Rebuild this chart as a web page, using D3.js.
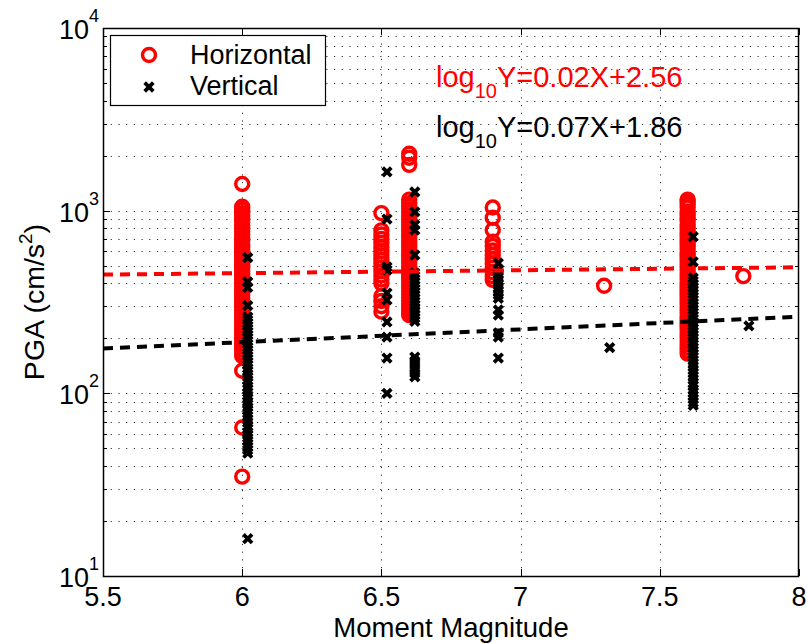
<!DOCTYPE html>
<html>
<head>
<meta charset="utf-8">
<script src="https://cdn.jsdelivr.net/npm/d3@7"></script>
<style>
  body { margin: 0; background: #fff; }
  svg { display: block; }
  text { font-family: Arial, "Liberation Sans", Helvetica, sans-serif; }
</style>
</head>
<body>
<div id="chart"></div>
<script>
// magnitudes of the events (vertical records drawn just right of horizontal ones)
const hMag = [6.0, 6.5, 6.6, 6.9, 7.3, 7.6, 7.8];
const vMag = [6.02, 6.52, 6.62, 6.92, 7.32, 7.62, 7.82];

// PGA (cm/s^2) of horizontal records, one list per event
const hPGA = [
    [1400, 1050, 1010, 970, 935, 900, 865, 830, 800, 770, 740, 712, 685, 660, 635, 610, 588, 565, 545,
     525, 505, 485, 467, 450, 433, 417, 401, 386, 372, 358, 344, 331, 319, 307, 296, 285, 274, 264, 254,
     244, 235, 226, 218, 210, 202, 194, 187, 180, 173, 166, 160, 133, 65, 35],
    [970, 780, 740, 700, 665, 630, 600, 570, 540, 512, 488, 465, 442, 420, 400, 340, 320, 300, 280],
    [2050, 1950, 1780, 1150, 1100, 1060, 1020, 980, 940, 900, 865, 830, 800, 770, 740, 710, 680, 655,
     630, 605, 580, 558, 536, 515, 495, 476, 458, 440, 423, 407, 391, 376, 362, 348, 335, 322, 310, 298,
     287, 276, 268],
    [1040, 915, 783, 676, 640, 605, 572, 540, 512, 485, 460, 438, 418],
    [388],
    [1150, 1120, 1080, 1040, 990, 950, 910, 880, 840, 810, 780, 750, 720, 690, 665, 640, 615, 590, 570,
     548, 528, 508, 490, 470, 452, 436, 420, 404, 388, 374, 360, 346, 333, 320, 308, 296, 285, 274, 263,
     253, 243, 234, 225, 216, 208, 200, 192, 185, 178, 171, 165],
    [438]
];

// PGA (cm/s^2) of vertical records
const vPGA = [
    [553, 407, 380, 302, 262, 252, 243, 234, 225, 217, 209, 201, 193, 186, 179, 172, 166, 160, 154, 148,
     143, 137, 132, 127, 123, 118, 114, 109, 105, 101, 97, 94, 90, 87, 84, 81, 78, 75, 72, 69, 66, 64,
     61, 59, 57, 55, 53, 51, 49, 47, 16],
    [1630, 900, 492, 473, 354, 324, 246, 203, 156, 100],
    [1265, 985, 835, 783, 572, 456, 438, 420, 404, 388, 372, 357, 343, 330, 317, 304, 292, 280, 269, 258,
     248, 158, 150, 143, 136, 129, 123],
    [516, 473, 452, 432, 413, 395, 378, 362, 346, 331, 286, 268, 214, 203, 156],
    [178],
    [720, 525, 428, 412, 396, 380, 365, 351, 337, 324, 311, 299, 287, 276, 265, 255, 245, 235, 226, 217,
     208, 200, 192, 185, 178, 171, 164, 158, 152, 146, 140, 134, 129, 124, 119, 114, 110, 105, 101, 97,
     93, 89, 86],
    [234]
];

// fitted lines log10(Y) = a*X + b (a, b unrounded as drawn; labels as printed)
const fitH = { a: 0.016, b: 2.562, label: "0.02X+2.56" };
const fitV = { a: 0.07, b: 1.86, label: "0.07X+1.86" };

const xTicks = [5.5, 6, 6.5, 7, 7.5, 8];
const yMajor = [10, 100, 1000, 10000];

const W = 807, H = 644;
const pad = { left: 103, right: 799, top: 28, bottom: 576 };
const red = "#ff0000";

const svg = d3.select("#chart").append("svg").attr("width", W).attr("height", H);

const x = d3.scaleLinear().domain([5.5, 8]).range([pad.left, pad.right]);
const y = d3.scaleLog().domain([10, 10000]).range([pad.bottom, pad.top]);

const yMinor = [];
[10, 100, 1000].forEach(d => { for (let k = 2; k <= 9; k++) yMinor.push(d * k); });

// grid
const grid = svg.append("g").attr("stroke", "#333").attr("stroke-width", 1)
    .attr("stroke-dasharray", "1.2,6.5");
grid.selectAll(".gy").data(yMinor.concat([100, 1000])).enter().append("line")
    .attr("x1", pad.left).attr("x2", pad.right)
    .attr("y1", d => Math.round(y(d)) + 0.5).attr("y2", d => Math.round(y(d)) + 0.5);
grid.selectAll(".gx").data(xTicks.slice(1, -1)).enter().append("line")
    .attr("y1", pad.top).attr("y2", pad.bottom)
    .attr("x1", d => Math.round(x(d)) + 0.5).attr("x2", d => Math.round(x(d)) + 0.5);

// ticks (inward, all four sides)
const ticks = svg.append("g").attr("stroke", "#000").attr("stroke-width", 1);
yMajor.forEach(d => {
    const yy = Math.round(y(d)) + 0.5;
    ticks.append("line").attr("x1", pad.left).attr("x2", pad.left + 7).attr("y1", yy).attr("y2", yy);
    ticks.append("line").attr("x1", pad.right).attr("x2", pad.right - 7).attr("y1", yy).attr("y2", yy);
});
yMinor.forEach(d => {
    const yy = Math.round(y(d)) + 0.5;
    ticks.append("line").attr("x1", pad.left).attr("x2", pad.left + 4).attr("y1", yy).attr("y2", yy);
    ticks.append("line").attr("x1", pad.right).attr("x2", pad.right - 4).attr("y1", yy).attr("y2", yy);
});
xTicks.forEach(d => {
    const xx = Math.round(x(d)) + 0.5;
    ticks.append("line").attr("x1", xx).attr("x2", xx).attr("y1", pad.bottom).attr("y2", pad.bottom - 7);
    ticks.append("line").attr("x1", xx).attr("x2", xx).attr("y1", pad.top).attr("y2", pad.top + 7);
});

// data markers
const plot = svg.append("g");
hMag.forEach((m, i) => {
    plot.selectAll(null).data(hPGA[i]).enter().append("circle")
        .attr("cx", x(m)).attr("cy", d => y(d)).attr("r", 6.5)
        .attr("fill", "none").attr("stroke", red).attr("stroke-width", 3.4);
});
const cross = "M-4.3,-4.3L4.3,4.3M-4.3,4.3L4.3,-4.3";
vMag.forEach((m, i) => {
    plot.selectAll(null).data(vPGA[i]).enter().append("path")
        .attr("d", cross)
        .attr("transform", d => `translate(${x(m)},${y(d)})`)
        .attr("fill", "none").attr("stroke", "#000").attr("stroke-width", 3.8);
});

// fitted lines
[[fitH, red], [fitV, "#000"]].forEach(([f, c]) => {
    const pts = [5.5, 8].map(m => [x(m), y(Math.pow(10, f.a * m + f.b))]);
    svg.append("path").attr("d", d3.line()(pts))
        .attr("fill", "none").attr("stroke", c).attr("stroke-width", 4)
        .attr("stroke-dasharray", "10,7");
});

// axes box
svg.append("rect").attr("x", pad.left + 0.5).attr("y", pad.top + 0.5)
    .attr("width", pad.right - pad.left - 1).attr("height", pad.bottom - pad.top)
    .attr("fill", "none").attr("stroke", "#000").attr("stroke-width", 1.5);

// tick labels
svg.selectAll(".xl").data(xTicks).enter().append("text")
    .attr("x", d => x(d)).attr("y", pad.bottom + 30)
    .attr("text-anchor", "middle").attr("font-size", 27).text(d => d);
yMajor.forEach(d => {
    svg.append("text").attr("x", 89).attr("y", y(d) + 11)
        .attr("text-anchor", "end").attr("font-size", 27).text("10");
    svg.append("text").attr("x", 89).attr("y", y(d) - 6)
        .attr("font-size", 18).text(Math.round(Math.log10(d)));
});

// axis titles
svg.append("text").attr("x", (pad.left + pad.right) / 2).attr("y", 637)
    .attr("text-anchor", "middle").attr("font-size", 27.5).text("Moment Magnitude");
const yt = svg.append("text").attr("transform", `translate(44,${(pad.top + pad.bottom) / 2}) rotate(-90)`)
    .attr("text-anchor", "middle").attr("font-size", 28.5);
yt.append("tspan").text("PGA (cm/s");
yt.append("tspan").attr("font-size", 19).attr("dy", -12).text("2");
yt.append("tspan").attr("dy", 12).text(")");

// equations
[[fitH, red, 87], [fitV, "#000", 137]].forEach(([f, c, yy]) => {
    const t = svg.append("text").attr("x", 436).attr("y", yy).attr("fill", c).attr("font-size", 29);
    t.append("tspan").text("log");
    t.append("tspan").attr("font-size", 20).attr("dy", 11).text("10");
    t.append("tspan").attr("dy", -11).text("Y=" + f.label);
});

// legend
const lg = svg.append("g");
lg.append("rect").attr("x", 110.5).attr("y", 35.5).attr("width", 215).attr("height", 70)
    .attr("fill", "#fff").attr("stroke", "#000").attr("stroke-width", 1.2);
lg.append("circle").attr("cx", 149).attr("cy", 55).attr("r", 6.5)
    .attr("fill", "none").attr("stroke", red).attr("stroke-width", 3.4);
lg.append("path").attr("d", cross).attr("transform", "translate(149,87)")
    .attr("fill", "none").attr("stroke", "#000").attr("stroke-width", 3.8);
lg.append("text").attr("x", 190).attr("y", 64).attr("font-size", 27).text("Horizontal");
lg.append("text").attr("x", 190).attr("y", 95).attr("font-size", 27).text("Vertical");
</script>
</body>
</html>
